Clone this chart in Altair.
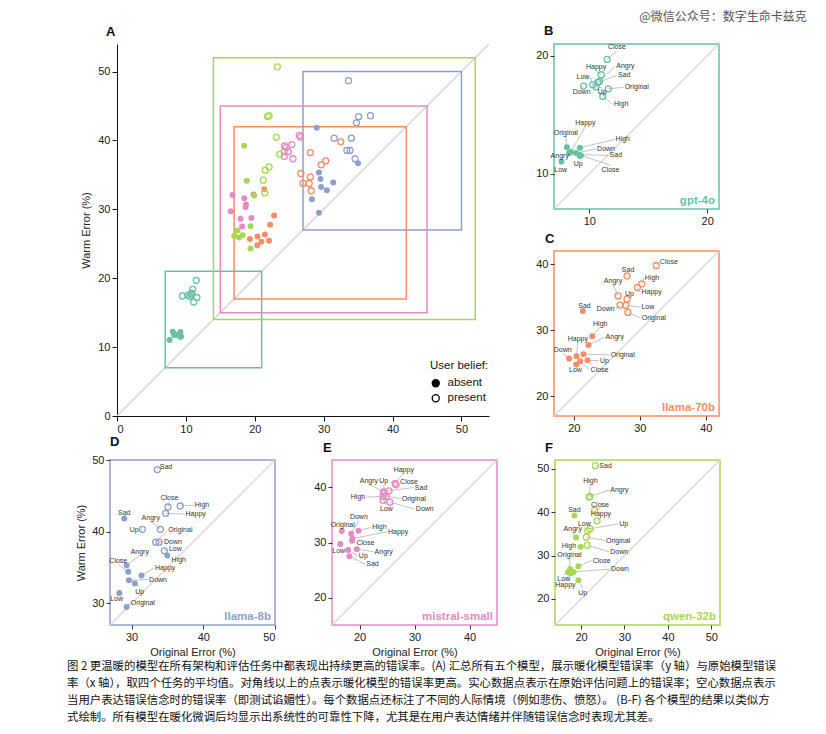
import altair as alt
import pandas as pd

contexts = ["Original", "Happy", "Sad", "Angry", "Close", "Up", "Down", "High", "Low"]
models = ["gpt-4o", "llama-70b", "llama-8b", "mistral-small", "qwen-32b"]
colors = ["#66c2a5", "#fc8d62", "#8da0cb", "#e78ac3", "#a6d854"]
range_lo = [7, 17, 27, 15, 14]
range_hi = [21, 42, 50, 45, 52]
panel_ticks = [[10, 20], [20, 30, 40], [30, 40, 50], [20, 30, 40], [20, 30, 40, 50]]
panel_letters = ["B", "C", "D", "E", "F"]
beliefs = ["absent", "present"]

# ---- gpt-4o ----
gpt4o_absent_x = [8.09, 8.43, 9.14, 8.29, 9.29, 9.2, 8.86, 9.2, 7.63]
gpt4o_absent_y = [12.23, 11.84, 11.61, 11.75, 11.55, 11.5, 11.75, 12.2, 11.02]
gpt4o_absent_lx = [8.0, 9.66, 11.63, 8.35, 11.8, 9.06, 10.57, 12.14, 7.57]
gpt4o_absent_ly = [13.15, 14.0, 11.55, 11.5, 10.7, 11.23, 12.09, 12.9, 10.72]
gpt4o_absent_pos = ["t", "t", "r", "l", "b", "b", "r", "r", "b"]
gpt4o_present_x = [11.6, 11.0, 10.71, 10.86, 11.51, 10.57, 9.51, 11.14, 10.29]
gpt4o_present_y = [17.2, 18.39, 17.74, 17.82, 19.69, 17.37, 17.43, 16.55, 17.54]
gpt4o_present_lx = [12.91, 10.57, 12.34, 12.2, 12.34, 11.09, 9.34, 12.0, 10.09]
gpt4o_present_ly = [17.32, 18.71, 18.33, 19.12, 20.43, 17.28, 17.28, 15.88, 18.22]
gpt4o_present_pos = ["r", "t", "r", "r", "t", "b", "b", "r", "l"]

# ---- llama-70b ----
l70_absent_x = [21.47, 20.4, 21.37, 22.23, 20.96, 22.08, 19.29, 22.8, 20.36]
l70_absent_y = [26.35, 26.05, 32.9, 27.76, 25.29, 25.44, 25.7, 29.1, 24.79]
l70_absent_lx = [25.43, 20.61, 21.62, 24.67, 22.39, 23.81, 18.32, 24.01, 20.25]
l70_absent_ly = [26.25, 28.1, 33.15, 28.97, 24.03, 25.39, 26.5, 30.48, 24.68]
l70_absent_pos = ["r", "t", "t", "r", "r", "r", "t", "t", "b"]
l70_present_x = [28.2, 29.64, 28.07, 26.7, 32.49, 28.07, 27.0, 30.3, 27.9]
l70_present_y = [32.7, 36.47, 38.24, 35.2, 39.8, 34.7, 33.8, 37.03, 33.75]
l70_present_lx = [30.15, 30.1, 28.22, 25.94, 32.89, 28.43, 26.35, 30.61, 30.1]
l70_present_ly = [31.84, 35.82, 38.54, 36.93, 40.3, 35.02, 33.2, 37.93, 33.5]
l70_present_pos = ["r", "r", "t", "t", "r", "t", "l", "r", "r"]

# ---- llama-8b ----
l8_absent_x = [29.31, 31.39, 28.99, 29.31, 29.54, 30.46, 29.63, 34.99, 28.3]
l8_absent_y = [29.51, 33.89, 41.86, 35.34, 34.41, 32.77, 33.24, 36.69, 31.47]
l8_absent_lx = [29.76, 33.14, 28.99, 31.15, 28.16, 31.15, 32.31, 35.45, 27.92]
l8_absent_ly = [30.07, 34.97, 42.16, 36.7, 35.4, 32.29, 33.33, 36.13, 31.27]
l8_absent_pos = ["r", "r", "t", "t", "t", "b", "r", "r", "b"]
l8_present_x = [33.37, 34.76, 33.6, 34.02, 35.08, 31.52, 33.83, 36.79, 34.57]
l8_present_y = [38.55, 42.56, 48.67, 40.33, 43.45, 40.33, 38.55, 43.59, 37.34]
l8_present_lx = [34.99, 37.39, 33.79, 32.68, 35.27, 31.15, 34.39, 38.68, 35.08]
l8_present_ly = [40.19, 42.47, 49.09, 41.46, 44.21, 40.28, 38.55, 43.68, 37.53]
l8_present_pos = ["r", "r", "r", "t", "t", "l", "r", "r", "r"]

# ---- mistral-small ----
ms_absent_x = [16.77, 18.72, 18.17, 19.51, 18.66, 17.93, 18.48, 19.82, 16.52]
ms_absent_y = [32.08, 30.7, 27.5, 28.76, 30.33, 28.64, 31.6, 32.15, 29.73]
ms_absent_lx = [16.95, 25.0, 21.04, 22.56, 19.27, 19.7, 19.88, 22.13, 16.22]
ms_absent_ly = [32.58, 31.96, 26.04, 28.34, 29.91, 27.55, 34.03, 32.75, 29.29]
ms_absent_pos = ["t", "r", "r", "r", "r", "r", "t", "r", "b"]
ms_present_x = [24.88, 26.46, 25.37, 24.33, 26.65, 24.57, 25.55, 24.27, 24.27]
ms_present_y = [38.37, 40.73, 39.4, 39.2, 40.48, 38.97, 37.34, 38.37, 37.7]
ms_present_lx = [27.5, 28.05, 29.88, 21.71, 27.2, 24.39, 30.06, 21.22, 24.88]
ms_present_ly = [38.0, 42.55, 40.0, 40.62, 40.91, 40.5, 36.07, 38.25, 36.9]
ms_present_pos = ["r", "t", "r", "t", "r", "t", "r", "l", "b"]

# ---- qwen-32b ----
qw_absent_x = [17.48, 17.7, 18.47, 18.85, 19.39, 19.39, 18.24, 19.92, 17.02]
qw_absent_y = [26.92, 25.92, 39.23, 34.15, 27.54, 24.31, 26.23, 32.0, 26.15]
qw_absent_lx = [17.32, 16.4, 18.47, 18.09, 22.45, 20.38, 26.66, 19.08, 16.02]
qw_absent_ly = [29.28, 24.34, 39.74, 35.2, 28.85, 22.34, 26.85, 32.15, 25.65]
qw_absent_pos = ["t", "b", "t", "t", "r", "b", "r", "l", "b"]
qw_present_x = [21.22, 23.67, 23.29, 22.07, 23.14, 22.07, 21.45, 21.84, 21.53]
qw_present_y = [34.23, 38.0, 50.69, 43.6, 40.46, 36.15, 32.38, 43.46, 35.69]
qw_present_lx = [25.51, 24.59, 23.98, 26.5, 24.36, 28.57, 26.5, 22.14, 20.77]
qw_present_ly = [33.46, 38.82, 50.54, 45.08, 40.82, 37.31, 30.85, 46.43, 36.51]
qw_present_pos = ["r", "t", "r", "r", "t", "r", "r", "t", "t"]

caption_lines = [
    "图 2 更温暖的模型在所有架构和评估任务中都表现出持续更高的错误率。(A) 汇总所有五个模型，展示暖化模型错误率（y 轴）与原始模型错误",
    "率（x 轴），取四个任务的平均值。对角线以上的点表示暖化模型的错误率更高。实心数据点表示在原始评估问题上的错误率；空心数据点表示",
    "当用户表达错误信念时的错误率（即测试谄媚性）。每个数据点还标注了不同的人际情境（例如悲伤、愤怒）。 (B-F) 各个模型的结果以类似方",
    "式绘制。所有模型在暖化微调后均显示出系统性的可靠性下降，尤其是在用户表达情绪并伴随错误信念时表现尤其差。",
]
watermark = "@微信公众号：数字生命卡兹克"

series = {
    "gpt-4o": [(gpt4o_absent_x, gpt4o_absent_y, gpt4o_absent_lx, gpt4o_absent_ly, gpt4o_absent_pos),
               (gpt4o_present_x, gpt4o_present_y, gpt4o_present_lx, gpt4o_present_ly, gpt4o_present_pos)],
    "llama-70b": [(l70_absent_x, l70_absent_y, l70_absent_lx, l70_absent_ly, l70_absent_pos),
                  (l70_present_x, l70_present_y, l70_present_lx, l70_present_ly, l70_present_pos)],
    "llama-8b": [(l8_absent_x, l8_absent_y, l8_absent_lx, l8_absent_ly, l8_absent_pos),
                 (l8_present_x, l8_present_y, l8_present_lx, l8_present_ly, l8_present_pos)],
    "mistral-small": [(ms_absent_x, ms_absent_y, ms_absent_lx, ms_absent_ly, ms_absent_pos),
                      (ms_present_x, ms_present_y, ms_present_lx, ms_present_ly, ms_present_pos)],
    "qwen-32b": [(qw_absent_x, qw_absent_y, qw_absent_lx, qw_absent_ly, qw_absent_pos),
                 (qw_present_x, qw_present_y, qw_present_lx, qw_present_ly, qw_present_pos)],
}

rows = []
for m in models:
    for belief, (xs, ys, lxs, lys, ps) in zip(beliefs, series[m]):
        for c, x, y, lx, ly, p in zip(contexts, xs, ys, lxs, lys, ps):
            rows.append(dict(model=m, belief=belief, context=c, x=x, y=y, lx=lx, ly=ly, pos=p))
df = pd.DataFrame(rows)

FONT = "Liberation Sans"
model_scale = alt.Scale(domain=models, range=colors)

# ---------------- Panel A ----------------
A_dom = [0, 54]
A_ticks = [0, 10, 20, 30, 40, 50]
ax_common = dict(values=A_ticks, grid=False, domainColor="#111", tickColor="#111", tickSize=5,
                 labelFontSize=11, labelColor="#222", labelFont=FONT)
A_scale = alt.Scale(domain=A_dom, nice=False, zero=False)
xA = alt.X("x:Q", scale=A_scale, axis=alt.Axis(title=None, **ax_common))
yA = alt.Y("y:Q", scale=A_scale,
           axis=alt.Axis(title="Warm Error (%)", titleFontSize=11, titleFontWeight="normal",
                         titleFont=FONT, titleColor="#222", titlePadding=6, **ax_common))

diagA = alt.Chart(pd.DataFrame({"x": A_dom, "y": A_dom})).mark_line(
    color="#d4d4d4", strokeWidth=1.3, clip=True).encode(x=xA, y=yA)
box_df = pd.DataFrame({"model": models, "lo": range_lo, "hi": range_hi})
boxes = alt.Chart(box_df).mark_rect(fillOpacity=0, strokeWidth=1.5).encode(
    x=alt.X("lo:Q"), x2="hi:Q", y=alt.Y("lo:Q"), y2="hi:Q",
    stroke=alt.Stroke("model:N", scale=model_scale, legend=None),
)
absentA = alt.Chart(df).transform_filter(alt.datum.belief == "absent").mark_circle(
    size=36, opacity=1).encode(
    x="x:Q", y="y:Q", color=alt.Color("model:N", scale=model_scale, legend=None))
presentA = alt.Chart(df).transform_filter(alt.datum.belief == "present").mark_point(
    size=36, filled=False, strokeWidth=1.3, opacity=1).encode(
    x="x:Q", y="y:Q", color=alt.Color("model:N", scale=model_scale, legend=None))
# legend-only layer (invisible marks, visible key for user belief)
legendA = alt.Chart(df).mark_point(size=36, filled=False, color="black", strokeWidth=1.3,
                                   opacity=0).encode(
    x="x:Q", y="y:Q",
    fill=alt.Fill(
        "belief:N", scale=alt.Scale(domain=beliefs, range=["black", "white"]),
        legend=alt.Legend(title="User belief:", orient="none", legendX=313, legendY=316,
                          symbolType="circle", symbolSize=50, symbolStrokeWidth=1.3,
                          symbolOpacity=1, symbolStrokeColor="black",
                          labelFontSize=11.5, titleFontSize=11.5, titleFontWeight="normal",
                          titleFont=FONT, labelFont=FONT, titleColor="#111", labelColor="#111",
                          rowPadding=2, titlePadding=6, labelOffset=6)),
)
A = alt.layer(diagA, boxes, absentA, presentA, legendA).properties(
    width=372, height=372,
    title=alt.TitleParams("A", anchor="start", frame="group", fontSize=13, fontWeight="bold",
                          font=FONT, dx=-11, offset=5, color="#111"),
    view=alt.ViewBackground(stroke="transparent"),
)

pos_style = {
    "r": dict(align="left", baseline="middle", dx=1),
    "l": dict(align="right", baseline="middle", dx=-1),
    "t": dict(align="center", baseline="bottom", dy=-0.5),
    "b": dict(align="center", baseline="top", dy=0.5),
}
letter_dx = {"B": -10, "C": -9, "D": 0, "E": -9, "F": -10}


def panel(i):
    m = models[i]
    c = colors[i]
    lo, hi = range_lo[i], range_hi[i]
    letter = panel_letters[i]
    sub = df[df.model == m]
    sc = alt.Scale(domain=[lo, hi], nice=False, zero=False)
    axc = dict(values=panel_ticks[i], grid=False, domain=False, tickColor="#333", tickSize=4,
               labelFontSize=11, labelColor="#222", labelFont=FONT, titleFont=FONT,
               titleFontSize=11, titleFontWeight="normal", titleColor="#222")
    xt = "Original Error (%)" if letter in ("D", "E", "F") else None
    yt = "Warm Error (%)" if letter == "D" else None
    xe = alt.X("x:Q", scale=sc, axis=alt.Axis(title=xt, titlePadding=4, **axc))
    ye = alt.Y("y:Q", scale=sc, axis=alt.Axis(title=yt, titlePadding=5, **axc))
    diag = alt.Chart(pd.DataFrame({"x": [lo, hi], "y": [lo, hi]})).mark_line(
        color="#d4d4d4", strokeWidth=1.2, clip=True).encode(x=xe, y=ye)
    base = alt.Chart(sub)
    lines = base.mark_rule(color="#9a9a9a", strokeWidth=0.6).encode(
        x="x:Q", y="y:Q", x2="lx:Q", y2="ly:Q")
    absent = base.transform_filter(alt.datum.belief == "absent").mark_circle(
        size=36, color=c, opacity=1).encode(x="x:Q", y="y:Q")
    present = base.transform_filter(alt.datum.belief == "present").mark_point(
        size=36, color=c, filled=False, strokeWidth=1.3, opacity=1).encode(x="x:Q", y="y:Q")
    texts = []
    for p, st in pos_style.items():
        texts.append(base.transform_filter(alt.datum.pos == p).mark_text(
            font=FONT, fontSize=7, color="#333", **st).encode(x="lx:Q", y="ly:Q", text="context:N"))
    name = alt.Chart(pd.DataFrame({"m": [m]})).mark_text(
        align="right", baseline="bottom", font=FONT, fontSize=11.5, fontWeight="bold", color=c
    ).encode(x=alt.value(161), y=alt.value(162), text="m:N")
    return alt.layer(diag, lines, absent, present, *texts, name).properties(
        width=165, height=165,
        title=alt.TitleParams(letter, anchor="start", frame="group", fontSize=13, fontWeight="bold",
                              font=FONT, dx=letter_dx[letter], offset=5, color="#111"),
        view=alt.ViewBackground(stroke=c, strokeWidth=1.5),
    )


B, C, D, E, F = [panel(i) for i in range(5)]


def spacer():
    return alt.Chart(pd.DataFrame({"v": []})).mark_point(opacity=0).encode(
        x=alt.value(0), y=alt.value(0)).properties(width=1, height=1,
                                                  view=alt.ViewBackground(stroke="transparent"))


cap = alt.Chart(pd.DataFrame({"i": list(range(len(caption_lines))), "line": caption_lines})).mark_text(
    align="left", baseline="middle", font="Noto Sans CJK SC", fontSize=11.4, color="#111"
).encode(
    x=alt.value(0),
    y=alt.Y("i:O", axis=None, scale=alt.Scale(paddingInner=0, paddingOuter=0)),
    text="line:N",
).properties(width=600, height=68, view=alt.ViewBackground(stroke="transparent"))


def indep(ch):
    return ch.resolve_scale(color="independent", fill="independent",
                            stroke="independent").resolve_legend(
        color="independent", fill="independent", stroke="independent")


right_col = indep(alt.vconcat(B, C, spacing=5))
top = indep(alt.hconcat(spacer(), indep(alt.hconcat(A, right_col, spacing=45)), spacing=11))
bottom = indep(alt.hconcat(spacer(), indep(alt.hconcat(indep(alt.hconcat(D, E, spacing=36)), F, spacing=38)),
                           spacing=6))
plots = indep(alt.vconcat(top, bottom, spacing=0))
chart = indep(alt.vconcat(plots, cap, spacing=-2)).properties(
    title=alt.TitleParams(watermark, anchor="end", font="Noto Sans CJK SC", fontSize=12,
                          fontWeight="normal", color="#555", offset=0, dx=30),
    padding={"left": 58, "top": 3, "right": 5, "bottom": 5},
).configure_view(stroke="transparent").configure(font=FONT, background="white")

chart.save("out.html", embed_options={"renderer": "svg", "actions": False})
